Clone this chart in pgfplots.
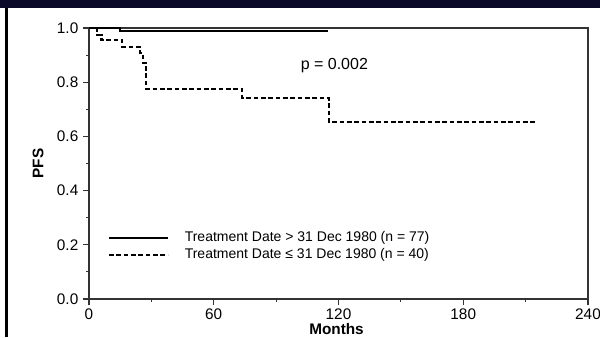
\documentclass[border=0pt]{standalone}
\usepackage{pgfplots}
\pgfplotsset{compat=1.18}
\usepackage{fontspec}
\setmainfont{Liberation Sans}
\definecolor{navyband}{HTML}{0A0A28}
\begin{document}
\begin{tikzpicture}[x=1pt,y=1pt]
\useasboundingbox (0,0) rectangle (450,252.75);
\clip (0,0) rectangle (450,252.75);
\begin{axis}[
  at={(66.75pt,28.5pt)}, anchor=south west,
  scale only axis, width=374.25pt, height=203.25pt,
  xmin=0, xmax=240, ymin=0, ymax=1.0,
  axis line style={line width=0.8pt, black!80},
  xtick={0,60,120,180,240},
  minor xtick={30,90,150,210},
  ytick={0,0.2,0.4,0.6,0.8,1.0},
  minor ytick={0.1,0.3,0.5,0.7,0.9},
  tick align=outside, xtick pos=bottom, ytick pos=left,
  major tick length=4.5pt, minor tick length=2pt,
  tick style={line width=0.8pt, black!80},
  yticklabel style={/pgf/number format/.cd, fixed, fixed zerofill, precision=1},
  /pgf/number format/assume math mode=true,
  ticklabel style={font=\fontsize{11.5}{13}\selectfont},
  xticklabel style={yshift=1pt},
  xlabel={\bfseries Months}, ylabel={\bfseries PFS},
  xlabel style={at={(axis description cs:0.496,-0.111)}, anchor=center, font=\fontsize{11.5}{13}\selectfont},
  ylabel style={at={(axis description cs:-0.102,0.5)}, anchor=center, font=\fontsize{11.5}{13}\selectfont},
  legend cell align=left,
  legend style={draw=none, fill=none, at={(axis cs:9,0.259)}, anchor=north west,
    inner sep=0pt, row sep=-0.5pt, font=\fontsize{10.5}{12}\selectfont},
  legend image code/.code={\draw[#1] (0pt,0pt) -- (44pt,0pt);},
  clip=false,
]
\addplot[black, line width=1.6pt, const plot] coordinates {
  (0,1.0) (15,0.989) (115,0.989)
};
\addlegendentry{\hspace{10pt}Treatment Date > 31 Dec 1980 (n = 77)}
\addplot[black, line width=1.6pt, dash pattern=on 3.5pt off 2pt, const plot] coordinates {
  (0,1.0) (4,0.975) (6,0.956) (16,0.930) (24.5,0.908) (26,0.871) (27.5,0.775)
  (73.6,0.742) (115.5,0.653) (215,0.653)
};
\addlegendentry{\hspace{10pt}Treatment Date ≤ 31 Dec 1980 (n = 40)}
\node[font=\fontsize{12}{14}\selectfont] at (axis cs:118,0.863) {p = 0.002};
\end{axis}
\fill[navyband] (0,246.4) rectangle (450,252.75);
\fill[black] (3.75,0) rectangle (6,246.4);
\end{tikzpicture}
\end{document}
